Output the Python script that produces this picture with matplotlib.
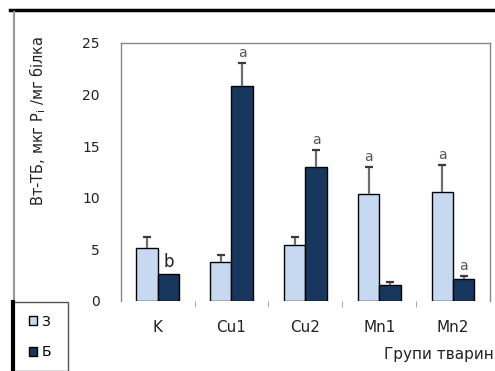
import numpy as np
import matplotlib.pyplot as plt
from matplotlib.lines import Line2D
from matplotlib.patches import Rectangle

plt.rcParams['font.family'] = ['DejaVu Sans']

groups = ['K', 'Cu1', 'Cu2', 'Mn1', 'Mn2']
z_vals = [5.1, 3.75, 5.4, 10.4, 10.55]
z_err = [1.1, 0.75, 0.8, 2.6, 2.6]
b_vals = [2.6, 20.8, 13.0, 1.55, 2.1]
b_err = [0.0, 2.3, 1.6, 0.32, 0.35]
b_marks = ['b', 'a', 'a', '', 'a']
z_marks = ['', '', '', 'a', 'a']

fig = plt.figure(figsize=(4.95, 3.71), dpi=100)
ax = fig.add_axes([120.7 / 495, 70 / 371, 369.3 / 495, 258 / 371])

x = np.arange(len(groups))
w = 0.29
light = '#c6d9f0'
dark = '#17375e'

ax.bar(x - w / 2, z_vals, w, color=light, edgecolor='black', linewidth=1.0,
       label='З', zorder=2)
ax.bar(x + w / 2, b_vals, w, color=dark, edgecolor='black', linewidth=1.0,
       label='Б', zorder=2)


def upper_err(xs, vals, errs):
    # only the upper half of the error bar, with a cap on top
    for xi, v, e in zip(xs, vals, errs):
        if e <= 0:
            continue
        ax.vlines(xi, v, v + e, color='#6e6e6e', linewidth=1.6, zorder=3)
        ax.plot([xi], [v + e], marker='_', markersize=6, mew=1.6,
                color='#3a3a3a', zorder=3)


upper_err(x - w / 2, z_vals, z_err)
upper_err(x + w / 2, b_vals, b_err)

for i in range(len(groups)):
    if z_marks[i]:
        ax.text(x[i] - w / 2, z_vals[i] + z_err[i] + 0.3, z_marks[i],
                ha='center', va='bottom', fontsize=10, color='#555555')
    if b_marks[i]:
        ax.text(x[i] + w / 2, b_vals[i] + b_err[i] + 0.3, b_marks[i],
                ha='center', va='bottom', fontsize=10 if b_marks[i] == 'a' else 12,
                color='#555555' if b_marks[i] == 'a' else '#222222')

ax.set_xlim(-0.5, 4.5)
ax.set_ylim(0, 25)
ax.set_yticks([0, 5, 10, 15, 20, 25])
ax.set_xticks(x)
ax.set_xticklabels(groups, fontsize=11)
ax.set_xticks(np.arange(0.5, 4.5, 1), minor=True)
ax.tick_params(axis='x', which='major', length=0, pad=14, colors='#222222')
ax.tick_params(axis='x', which='minor', length=4, color='#999999', direction='out')
ax.tick_params(axis='y', length=0, pad=15, labelsize=10, colors='#222222')
for s in ['top', 'left', 'right']:
    ax.spines[s].set_color('#888888')
    ax.spines[s].set_linewidth(1.0)
ax.spines['bottom'].set_visible(False)

fig.text(38 / 495, 1 - 121 / 371, 'Вт-ТБ, мкг P$_\\mathregular{i}$ /мг білка', rotation=90,
         ha='center', va='center', fontsize=10.5, color='#222222')
fig.text(494 / 495, 1 - 354 / 371, 'Групи тварин', ha='right', va='center', fontsize=11,
         color='#222222')

# frame decorations
fig.add_artist(Line2D([10 / 495, 1], [1 - 10 / 371, 1 - 10 / 371], color='black',
                      linewidth=2.5, transform=fig.transFigure))
fig.add_artist(Line2D([14 / 495, 14 / 495], [1 - 12 / 371, 1 - 302 / 371], color='#999999',
                      linewidth=1.5, transform=fig.transFigure))
fig.add_artist(Rectangle((13 / 495, 0), 55 / 495, 69 / 371, fill=False,
                         edgecolor='#555555', linewidth=1.0, transform=fig.transFigure))
fig.add_artist(Line2D([13 / 495, 13 / 495], [0, 69 / 371], color='black',
                      linewidth=3, transform=fig.transFigure))

h, l = ax.get_legend_handles_labels()
fig.legend(h, l, loc='center', bbox_to_anchor=(40 / 495, 1 - 337 / 371), frameon=False,
           fontsize=10, handlelength=0.6, handleheight=0.6, handletextpad=0.3,
           labelspacing=1.2)

fig.savefig('out.png', dpi=100)
